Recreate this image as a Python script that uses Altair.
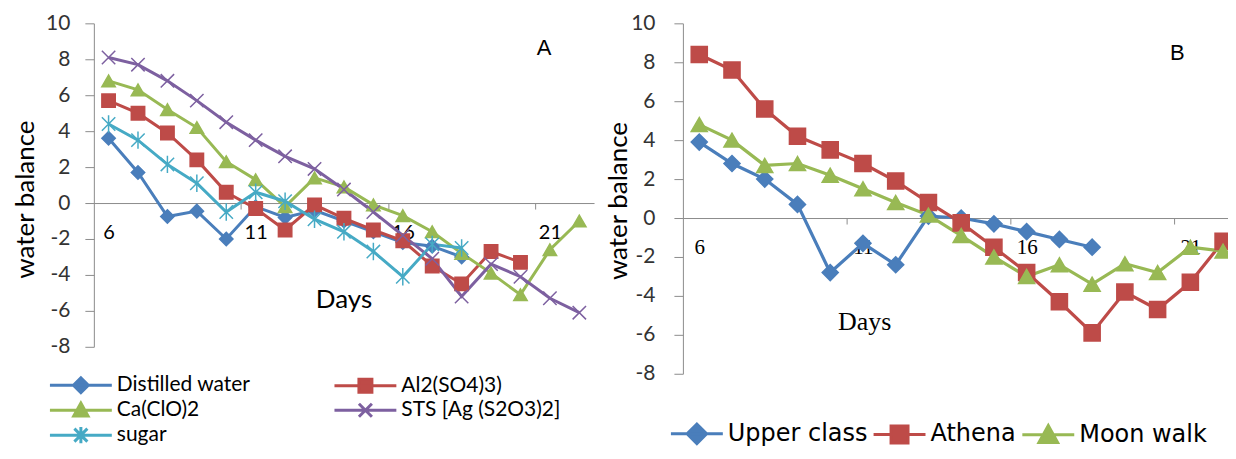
import altair as alt
import pandas as pd

# ---------------- Panel A data ----------------
a_names = ["Distilled water", "Al2(SO4)3)", "Ca(ClO)2", "STS [Ag (S2O3)2]", "sugar"]
a_distilled = [3.6, 1.7, -0.75, -0.45, -2.0, -0.2, -0.8, -0.4, -1.0, -1.6, -2.2, -2.4, -3.0]
a_al = [5.7, 5.0, 3.9, 2.4, 0.6, -0.3, -1.5, -0.1, -0.85, -1.5, -2.1, -3.5, -4.5, -2.7, -3.3]
a_ca = [6.8, 6.3, 5.2, 4.2, 2.3, 1.3, -0.2, 1.4, 0.9, -0.1, -0.7, -1.6, -2.8, -3.9, -5.1, -2.6, -1.0]
a_sts = [8.1, 7.7, 6.8, 5.7, 4.5, 3.5, 2.6, 1.9, 0.75, -0.5, -1.8, -3.1, -5.2, -3.4, -4.1, -5.3, -6.1]
a_sugar = [4.4, 3.5, 2.15, 1.1, -0.5, 0.6, 0.1, -0.9, -1.6, -2.7, -4.1, -2.3, -2.5]
a_colors = ["#4A7EBB", "#BE4B48", "#98B954", "#7D60A0", "#46AAC5"]
a_shapes = ["diamond", "square", "triangle", "x", "star"]
# legend entries are filled column by column (3 rows, 2 columns)
a_legend_order = ["Distilled water", "Ca(ClO)2", "sugar", "Al2(SO4)3)", "STS [Ag (S2O3)2]"]

# ---------------- Panel B data ----------------
b_names = ["Upper class", "Athena", "Moon walk"]
b_upper = [3.9, 2.8, 2.0, 0.7, -2.8, -1.3, -2.4, 0.1, 0.0, -0.3, -0.7, -1.1, -1.5]
b_athena = [8.4, 7.6, 5.6, 4.2, 3.5, 2.8, 1.9, 0.8, -0.25, -1.5, -2.8, -4.3, -5.9, -3.8, -4.7, -3.3, -1.2]
b_moon = [4.8, 4.0, 2.7, 2.8, 2.2, 1.5, 0.8, 0.15, -0.9, -2.0, -3.0, -2.4, -3.4, -2.35, -2.8, -1.5, -1.7]
b_colors = ["#4A7EBB", "#BE4B48", "#98B954"]
b_shapes = ["diamond", "square", "triangle"]
b_legend_order = ["Upper class", "Athena", "Moon walk"]

y_ticks = [-8, -6, -4, -2, 0, 2, 4, 6, 8, 10]
x_axis_values = [6, 10.5, 11, 15.5, 16, 20.5, 21]

ann_a_text = ["A", "Days"]
ann_a_day = [20.8, 14.0]
ann_a_val = [8.64, -5.42]
ann_b_text = ["B", "Days"]
ann_b_day = [20.6, 11.05]
ann_b_val = [8.5, -5.36]


def long_df(names, series):
    rows = []
    for n, vals in zip(names, series):
        for i, v in enumerate(vals):
            rows.append({"series": n, "day": 6 + i, "value": v})
    return pd.DataFrame(rows)


df_a = long_df(a_names, [a_distilled, a_al, a_ca, a_sts, a_sugar])
df_b = long_df(b_names, [b_upper, b_athena, b_moon])

MARK_SHAPES = {
    "diamond": "diamond",
    "square": "square",
    "triangle": "triangle-up",
    "x": "M-1,-1L1,1M-1,1L1,-1",
    "star": "M-1,-1L1,1M-1,1L1,-1M0,-1.3L0,1.3",
}

LEG_R = 9.0  # half-size (px) of the legend symbol's unit box (symbolSize 324)


def leg_path(kind, half_line, m):
    u = lambda v: "%.3f" % (v / LEG_R)
    line = "M-%s,0L%s,0" % (u(half_line), u(half_line))
    if kind == "diamond":
        mk = "M-%s,0L0,-%sL%s,0L0,%sZ" % ((u(m * 1.15),) * 4)
    elif kind == "square":
        mk = "M-%s,-%sL%s,-%sL%s,%sL-%s,%sZ" % ((u(m),) * 8)
    elif kind == "triangle":
        mk = "M-%s,%sL0,-%sL%s,%sZ" % (u(m * 1.1), u(m * 0.9), u(m * 1.1), u(m * 1.1), u(m * 0.9))
    elif kind == "x":
        mk = "M-%s,-%sL%s,%sM-%s,%sL%s,-%s" % ((u(m),) * 8)
    else:
        mk = "M-%s,-%sL%s,%sM-%s,%sL%s,-%sM0,-%sL0,%s" % ((u(m),) * 8 + (u(m * 1.25),) * 2)
    return line + mk


def panel(df, names, colors, shape_keys, legend_order, *, width, height, x_domain,
          x_offset, xlab_font, xlab_size, xlab_pad, ylab_pad, extent, title_pad,
          title_y, leg_x, leg_y, leg_cols, leg_colpad, leg_rowpad, leg_font,
          leg_font_size, leg_half, leg_marker, marker_size, line_w,
          ann_text, ann_day, ann_val, corner_font, days_font, days_size):
    color_scale = alt.Scale(domain=names, range=colors)
    shape_scale = alt.Scale(domain=names, range=[MARK_SHAPES[k] for k in shape_keys])
    idx = [names.index(n) for n in legend_order]
    leg_color_scale = alt.Scale(domain=legend_order, range=[colors[i] for i in idx])
    leg_shape_scale = alt.Scale(
        domain=legend_order,
        range=[leg_path(shape_keys[i], leg_half, leg_marker) for i in idx])

    x_scale = alt.Scale(domain=x_domain, nice=False, zero=False)
    y_scale = alt.Scale(domain=[-8, 10], nice=False, zero=False)
    yaxis = alt.Axis(
        values=y_ticks, title="water balance", titleFont="Lato", titleFontSize=26,
        titleFontWeight="normal", titleColor="#000", titlePadding=title_pad,
        titleY=title_y, labelExpr="'' + datum.value", labelOverlap=False,
        labelBound=False, labelFlush=False,
        labelFont="Lato", labelFontSize=21, labelColor="#333",
        tickSize=9, labelPadding=ylab_pad, minExtent=extent,
        maxExtent=extent, domainColor="#8C8C8C", tickColor="#8C8C8C", grid=False,
    )
    xaxis = alt.Axis(
        values=x_axis_values, title=None, offset=x_offset,
        labelExpr="datum.value % 1 == 0 ? datum.label : ''",
        tickOpacity={"condition": {"test": "datum.value % 1 != 0", "value": 1}, "value": 0},
        tickSize=6, labelPadding=xlab_pad, labelFont=xlab_font, labelFontSize=xlab_size,
        labelColor="#000", labelOverlap=False, labelFlush=False,
        domainColor="#8C8C8C", tickColor="#8C8C8C", grid=False,
    )
    x = alt.X("day:Q", scale=x_scale, axis=xaxis)
    y = alt.Y("value:Q", scale=y_scale, axis=yaxis)

    base = alt.Chart(df)
    lines = base.mark_line(strokeWidth=line_w, clip=True).encode(
        x=x, y=y,
        stroke=alt.Stroke("series:N", scale=color_scale, legend=None),
        detail="series:N",
    )
    points = base.mark_point(filled=True, size=marker_size, strokeWidth=1.5,
                             opacity=1, clip=True).encode(
        x=x, y=y,
        fill=alt.Fill("series:N", scale=color_scale, legend=None),
        stroke=alt.Stroke("series:N", scale=color_scale, legend=None),
        shape=alt.Shape("series:N", scale=shape_scale, legend=None),
    )
    size_px = max(21, leg_font_size)
    sym_off = leg_half - size_px / 2.0
    legend = alt.Legend(
        title=None, orient="none", legendX=leg_x, legendY=leg_y,
        columns=leg_cols, columnPadding=leg_colpad, rowPadding=leg_rowpad,
        labelFont=leg_font, labelFontSize=leg_font_size, labelColor="#000",
        labelLimit=400, symbolSize=LEG_R * LEG_R * 4, symbolStrokeWidth=3,
        symbolOffset=sym_off, labelOffset=leg_half + 5 - size_px / 2.0, padding=0,
    )
    leg_layer = base.transform_filter("false").mark_point(
        filled=True, strokeWidth=3, opacity=1).encode(
        x=x, y=y,
        fill=alt.Fill("series:N", scale=leg_color_scale, legend=legend),
        stroke=alt.Stroke("series:N", scale=leg_color_scale, legend=legend),
        shape=alt.Shape("series:N", scale=leg_shape_scale, legend=legend),
    )
    ann = pd.DataFrame({"text": ann_text, "day": ann_day, "value": ann_val})
    corner = alt.Chart(ann.iloc[[0]]).mark_text(
        font=corner_font, fontSize=22, color="#000").encode(
        x=x, y=y, text="text:N")
    days = alt.Chart(ann.iloc[[1]]).mark_text(
        font=days_font, fontSize=days_size, color="#000").encode(
        x=x, y=y, text="text:N")
    return alt.layer(lines, points, leg_layer, corner, days).resolve_scale(
        fill="independent", stroke="independent", shape="independent"
    ).properties(width=width, height=height)


chart_a = panel(
    df_a, a_names, a_colors, a_shapes, a_legend_order,
    width=501, height=324, x_domain=[5.5, 22.5], x_offset=-144,
    xlab_font="Lato", xlab_size=20, xlab_pad=14,
    ylab_pad=15, extent=54, title_pad=1, title_y=176,
    leg_x=-44, leg_y=352, leg_cols=2, leg_colpad=78, leg_rowpad=-2,
    leg_font="Lato", leg_font_size=21, leg_half=31, leg_marker=6.5,
    marker_size=180, line_w=3, ann_text=ann_a_text, ann_day=ann_a_day, ann_val=ann_a_val,
    corner_font="Liberation Sans", days_font="Lato", days_size=26,
)
chart_b = panel(
    df_b, b_names, b_colors, b_shapes, b_legend_order,
    width=546, height=351, x_domain=[5.5, 22.15], x_offset=-156,
    xlab_font="Liberation Serif", xlab_size=21, xlab_pad=13,
    ylab_pad=19, extent=51, title_pad=0, title_y=177.5,
    leg_x=-12, leg_y=399, leg_cols=3, leg_colpad=-1, leg_rowpad=0,
    leg_font="DejaVu Sans", leg_font_size=24, leg_half=26, leg_marker=8.5,
    marker_size=260, line_w=3.2, ann_text=ann_b_text, ann_day=ann_b_day, ann_val=ann_b_val,
    corner_font="Liberation Sans", days_font="Liberation Serif", days_size=26,
)

chart = alt.hconcat(chart_a, chart_b, spacing=12).properties(
    padding={"left": 5, "top": 4, "right": 0, "bottom": 0}
).configure_view(stroke=None)

chart.save("out.html", embed_options={"renderer": "svg", "actions": False})
